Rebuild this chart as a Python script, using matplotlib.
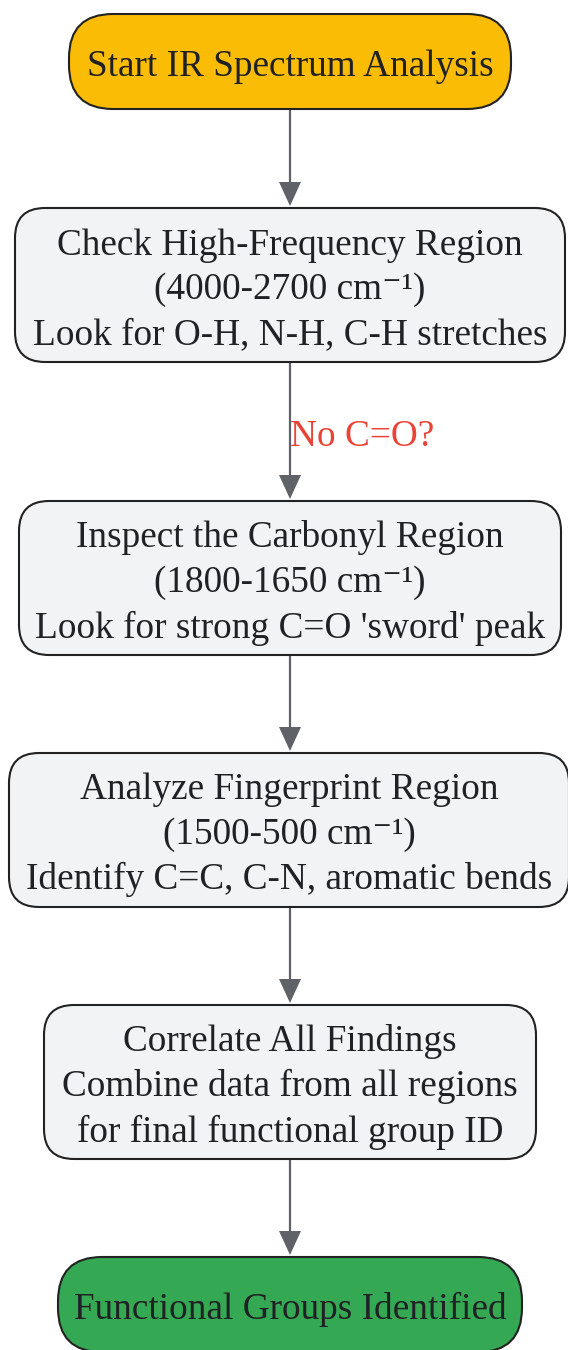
import matplotlib
matplotlib.use("Agg")
import matplotlib.pyplot as plt
from matplotlib.patches import FancyBboxPatch, Polygon

plt.rcParams['font.family'] = ['Liberation Serif', 'DejaVu Serif']

# flowchart content
node_labels = [
    "Start IR Spectrum Analysis",
    "Check High-Frequency Region\n(4000-2700 cm\u207b\u00b9)\nLook for O-H, N-H, C-H stretches",
    "Inspect the Carbonyl Region\n(1800-1650 cm\u207b\u00b9)\nLook for strong C=O 'sword' peak",
    "Analyze Fingerprint Region\n(1500-500 cm\u207b\u00b9)\nIdentify C=C, C-N, aromatic bends",
    "Correlate All Findings\nCombine data from all regions\nfor final functional group ID",
    "Functional Groups Identified",
]
node_colors = ["#FBBC05", "#F1F3F4", "#F1F3F4", "#F1F3F4", "#F1F3F4", "#34A853"]
edge_labels = ["", "No C=O?", "", "", ""]

# layout in pixels (left, top, right, bottom)
boxes = [
    (69, 14, 511, 109),
    (15, 208, 565, 362),
    (19, 501, 561, 655),
    (9, 753, 569, 907),
    (44, 1005, 536, 1159),
    (58, 1257, 522, 1352),
]

W, H = 568, 1350
dpi = 100
fig = plt.figure(figsize=(W / dpi, H / dpi), dpi=dpi)
ax = fig.add_axes([0, 0, 1, 1])
ax.set_xlim(0, W)
ax.set_ylim(H, 0)
ax.axis("off")

fs = 37.3 * 72 / dpi
cx = 290
edge_color = "#5F6368"

for i, (label, color) in enumerate(zip(node_labels, node_colors)):
    l, t, r, b = boxes[i]
    rad = 44 if "\n" not in label else 30
    patch = FancyBboxPatch((l, t), r - l, b - t,
                           boxstyle="round,pad=0,rounding_size=%d" % rad,
                           facecolor=color, edgecolor="#222222", linewidth=1.5,
                           zorder=2)
    ax.add_patch(patch)
    ax.text((l + r) / 2, (t + b) / 2 + 5, label, ha="center", va="center",
            fontsize=fs, color="#202124", linespacing=1.38, zorder=3)

for i, lab in enumerate(edge_labels):
    y0 = boxes[i][3]
    y1 = boxes[i + 1][1]
    head = 26
    ax.plot([cx, cx], [y0, y1 - head + 2], color=edge_color, lw=1.6, zorder=1,
            solid_capstyle="butt")
    ax.add_patch(Polygon([(cx - 11, y1 - head), (cx + 11, y1 - head), (cx, y1 - 2)],
                         closed=True, facecolor=edge_color, edgecolor="none",
                         zorder=1))
    if lab:
        ax.text(cx, (y0 + y1) / 2 + 5, lab, ha="left", va="center",
                fontsize=fs, color="#EA4335", zorder=3)

fig.savefig("out.png", dpi=dpi)
